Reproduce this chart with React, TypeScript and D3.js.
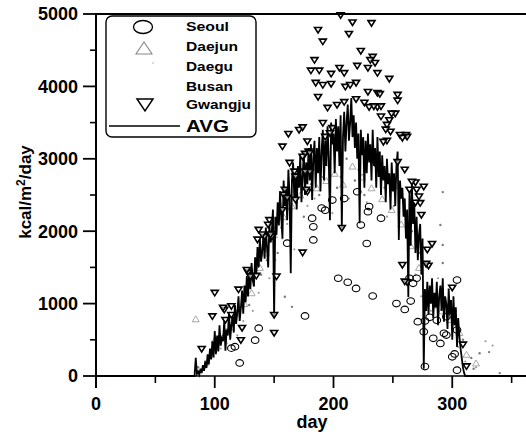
import React from "react";
import * as d3 from "d3";

// ---------- data ----------
const X_TICKS = [0, 100, 200, 300];
const X_MINOR = [50, 150, 250, 350];
const Y_TICKS = [0, 1000, 2000, 3000, 4000, 5000];
const Y_MINOR = [500, 1500, 2500, 3500, 4500];

const LEGEND_NAMES = ["Seoul", "Daejun", "Daegu", "Busan", "Gwangju", "AVG"];

// AVG daily values starting at day 80 (zero before and after)
const AVG_START = 80;
const AVG_VALUES = [
  0, 0, 0, 0, 250, 30, 60, 20, 100, 40,
  150, 70, 200, 110, 300, 160, 380, 230, 480, 260,
  620, 300, 560, 340, 700, 420, 520, 480, 760, 350,
  640, 560, 880, 500, 700, 820, 600, 980, 720, 880,
  1100, 760, 940, 1180, 860, 1250, 1020, 1380, 1100, 1460,
  1200, 1560, 1320, 1240, 1640, 1400, 1780, 1500, 1900, 1580,
  1720, 1960, 1620, 2050, 1780, 1500, 2100, 1850, 1980, 2300,
  820, 2200, 1950, 2400, 2080, 2550, 2200, 1900, 2700, 2350,
  2600, 2150, 2850, 2500, 1420, 2700, 2950, 2450, 2800, 2300,
  2900, 2600, 3050, 2400, 2750, 3100, 2500, 2950, 2650, 3150,
  2700, 3200, 2430, 3000, 3250, 2600, 3150, 2800, 3300, 2550,
  3100, 3400, 2700, 3250, 2900, 3450, 3000, 2150, 3500, 3200,
  3350, 2800, 3550, 3100, 3450, 2900, 3600, 2040, 3300, 3650,
  3100, 3500, 3750, 3250, 3500, 3840, 3300, 3600, 3150, 3500,
  3000, 3350, 2110, 3400, 3050, 3300, 2600, 3250, 2800, 3350,
  2950, 3200, 2700, 3400, 2900, 3150, 2600, 3300, 2750, 3100,
  2500, 3050, 2700, 2900, 2400, 3000, 2650, 2800, 2300, 2950,
  2550, 2800, 2350, 2900, 3100, 1880, 2700, 2450, 2600, 2200,
  2450, 1900, 2300, 1090, 2550, 1800, 2650, 2100, 2400, 1700,
  2200, 1600, 1950, 2100, 1400, 1900, 100, 1200, 900, 1300,
  850, 1250, 1000, 1350, 800, 1150, 950, 1300, 700, 1100,
  1250, 900, 1350, 750, 1100, 1000, 650, 1200, 850, 1050,
  500, 1100, 700, 950, 400, 800, 550, 380, 250, 120,
  40, 0, 0, 0,
];
const AVG_LAST_DAY = 366;

const GWANGJU: [number, number][] = [
  [206, 4980], [216, 4880], [232, 4870], [187, 4775], [213, 4720], [191, 4615],
  [223, 4485], [233, 4405], [184, 4360], [231, 4360], [181, 4215], [188, 4215],
  [198, 4170], [205, 4250], [209, 4180], [220, 4280], [229, 4250], [235, 4320],
  [237, 4180], [185, 4045], [191, 4015], [198, 4030], [210, 3990], [214, 4015],
  [219, 4045], [229, 3920], [237, 3905], [187, 3850], [195, 3700], [203, 3740],
  [209, 3780], [219, 3820], [226, 3770], [230, 3710], [237, 3710], [247, 4100],
  [254, 3880], [254, 3800], [239, 3890], [240, 3720], [234, 3720], [252, 3620],
  [240, 3580], [247, 3530], [245, 3465], [248, 3370], [244, 3400], [261, 3325],
  [262, 3300], [245, 3245], [191, 3490], [162, 3340], [171, 3395], [174, 3430],
  [157, 3165], [178, 3235], [176, 3065], [179, 3095], [174, 3025], [180, 3075],
  [254, 2950], [260, 2845], [163, 2940], [167, 2820], [168, 2750], [269, 2670],
  [270, 2570], [276, 2610], [159, 2570], [158, 2500], [161, 2455], [168, 2430],
  [157, 2290], [273, 2385], [274, 2220], [146, 2150], [145, 2085], [137, 2015],
  [142, 1920], [148, 1920], [283, 1820], [279, 1740], [207, 2040], [180, 2815],
  [178, 2540], [258, 1530], [280, 1520], [262, 1290], [174, 1700], [89, 370],
  [100, 1145], [98, 820], [108, 910], [114, 840], [120, 1190], [128, 1425],
  [130, 1370], [135, 1380], [122, 490], [150, 590], [150, 840], [260, 1300],
  [278, 1545], [300, 1215], [309, 430], [312, 130], [107, 940], [127, 1460],
  [136, 1880], [140, 1950], [147, 1950], [152, 1370], [109, 770], [123, 660],
  [114, 960], [199, 3420], [197, 3350], [193, 3300], [249, 3620], [256, 3325],
  [258, 3285], [242, 3230], [266, 2680], [264, 2570], [272, 2475], [269, 2390],
  [177, 2570], [176, 2820],
];

const SEOUL: [number, number][] = [
  [204, 1350], [212, 1295], [219, 1210], [233, 1105], [253, 1000], [260, 920],
  [265, 1035], [176, 830], [134, 495], [114, 385], [277, 130], [271, 750],
  [276, 610], [284, 520], [290, 450], [293, 590], [300, 265], [304, 80],
  [228, 1830], [223, 2085], [220, 2545], [209, 2450], [193, 2290], [190, 2320],
  [183, 2060], [183, 1880], [199, 2430], [230, 2340], [229, 2270], [240, 2180],
  [182, 2180], [264, 1350], [270, 1350], [267, 1280], [304, 1325], [277, 760],
  [281, 810], [302, 305], [295, 565], [304, 635], [137, 660], [117, 405],
  [121, 180], [161, 1835], [287, 770], [295, 820],
];

const DAEJUN: [number, number][] = [
  [84, 790], [100, 500], [110, 620], [118, 870], [125, 1000], [131, 1150],
  [138, 1500], [143, 1700], [150, 1950], [158, 2200], [165, 2350], [172, 2500],
  [186, 2600], [194, 2700], [201, 2800], [208, 2650], [216, 2900], [224, 2750],
  [232, 2600], [241, 2450], [249, 2300], [257, 2100], [265, 1800], [272, 1500],
  [283, 1050], [291, 900], [298, 780], [306, 600], [312, 300], [320, 180],
];

const DAEGU: [number, number][] = [
  [86, 120], [92, 200], [97, 330], [103, 420], [107, 560], [112, 700], [116, 640],
  [121, 900], [126, 1100], [129, 980], [133, 1250], [139, 1400], [144, 1600],
  [147, 1850], [153, 1700], [156, 2050], [159, 1095], [165, 955], [163, 2300],
  [169, 2400], [175, 2200], [181, 2650], [188, 2500], [196, 2900], [203, 2600],
  [211, 3000], [218, 2700], [226, 2500], [235, 2900], [243, 2600], [251, 2350],
  [259, 2450], [266, 2000], [272, 1700], [279, 1150], [286, 950], [290, 2085],
  [292, 1810], [292, 1560], [297, 1200], [303, 900], [309, 500], [316, 250],
  [323, 315], [331, 330], [292, 2540], [318, 100], [340, 40],
];

const BUSAN: [number, number][] = [
  [88, 60], [94, 150], [99, 260], [105, 380], [110, 450], [115, 780], [119, 560],
  [124, 760], [128, 1300], [132, 900], [137, 1150], [141, 1800], [146, 1350],
  [151, 1600], [157, 1900], [161, 2100], [167, 1750], [172, 2700], [178, 2350],
  [184, 2450], [191, 2750], [199, 2250], [206, 2750], [213, 2450], [221, 2850],
  [228, 2400], [236, 2700], [245, 2200], [253, 2600], [262, 1900], [269, 1400],
  [274, 1100], [282, 900], [288, 1350], [294, 1000], [300, 750], [305, 400],
  [311, 200], [320, 120], [328, 480], [334, 420],
];

// ---------- chart ----------
const W = 526;
const H = 434;
const FONT = "'Liberation Sans', Arial, Helvetica, sans-serif";

export default function App() {
  const x = d3.scaleLinear().domain([0, 100]).range([96, 214.75]);
  const y = d3.scaleLinear().domain([0, 5000]).range([376, 14]);

  const avgPts: [number, number][] = [[0, 0]];
  AVG_VALUES.forEach((v, i) => avgPts.push([AVG_START + i, v]));
  avgPts.push([AVG_LAST_DAY, 0]);

  const line = d3
    .line<[number, number]>()
    .x((d) => x(d[0]))
    .y((d) => y(d[1]));

  const triDown = (w: number, h: number) => `M${-w / 2},${-h / 2}L${w / 2},${-h / 2}L0,${h / 2}Z`;
  const triUp = (w: number, h: number) => `M${-w / 2},${h / 2}L${w / 2},${h / 2}L0,${-h / 2}Z`;

  const xMax = 526;
  const legendRows = [27, 47, 67, 87, 105, 126];
  const legendWidths = [43, 52, 47, 47, 65, 43];

  return (
    <div style={{ position: "fixed", left: 0, top: 0, width: W, height: H, background: "#fff" }}>
      <svg width={W} height={H} viewBox={`0 0 ${W} ${H}`} style={{ display: "block", fontFamily: FONT }}>
        <defs>
          <clipPath id="plot">
            <rect x={96} y={10} width={xMax - 96} height={372} />
          </clipPath>
        </defs>
        <rect x={0} y={0} width={W} height={H} fill="#fff" />

        <g clipPath="url(#plot)">
          {BUSAN.map((d, i) => (
            <circle key={"b" + i} cx={x(d[0])} cy={y(d[1])} r={1.1} fill="#9a9a9a" />
          ))}
          {DAEGU.map((d, i) => (
            <circle key={"g" + i} cx={x(d[0])} cy={y(d[1])} r={1.2} fill="#7a7a7a" />
          ))}
          {DAEJUN.map((d, i) => (
            <path
              key={"j" + i}
              d={triUp(7, 6)}
              transform={`translate(${x(d[0])},${y(d[1])})`}
              fill="none"
              stroke="#a8a8a8"
              strokeWidth={1}
            />
          ))}
          <path d={line(avgPts) as string} fill="none" stroke="#000" strokeWidth={1.8} strokeLinejoin="miter" />
          {SEOUL.map((d, i) => (
            <ellipse
              key={"s" + i}
              cx={x(d[0])}
              cy={y(d[1])}
              rx={3.8}
              ry={3.3}
              fill="none"
              stroke="#000"
              strokeWidth={1.1}
            />
          ))}
          {GWANGJU.map((d, i) => (
            <path
              key={"k" + i}
              d={triDown(7, 5.5)}
              transform={`translate(${x(d[0])},${y(d[1])})`}
              fill="#fff"
              fillOpacity={0.6}
              stroke="#000"
              strokeWidth={1.6}
              strokeLinejoin="miter"
            />
          ))}
        </g>

        {/* axes */}
        <line x1={96} x2={xMax} y1={14} y2={14} stroke="#000" strokeWidth={2} />
        <line x1={96} x2={96} y1={13} y2={388} stroke="#000" strokeWidth={2} />
        <line x1={96} x2={xMax} y1={376} y2={376} stroke="#000" strokeWidth={1.6} />
        {Y_TICKS.map((t) => (
          <g key={"yt" + t}>
            <line x1={83} x2={96} y1={y(t)} y2={y(t)} stroke="#000" strokeWidth={1.8} />
            <text x={78} y={y(t)} dy="0.36em" textAnchor="end" fontSize={18} fontWeight="bold">
              {t}
            </text>
          </g>
        ))}
        {Y_MINOR.map((t) => (
          <line key={"ym" + t} x1={90} x2={96} y1={y(t)} y2={y(t)} stroke="#000" strokeWidth={1.6} />
        ))}
        {X_TICKS.map((t) => (
          <g key={"xt" + t}>
            <line x1={x(t)} x2={x(t)} y1={376} y2={388} stroke="#000" strokeWidth={1.8} />
            <text x={x(t)} y={410} textAnchor="middle" fontSize={18} fontWeight="bold">
              {t}
            </text>
          </g>
        ))}
        {X_MINOR.map((t) => (
          <line key={"xm" + t} x1={x(t)} x2={x(t)} y1={376} y2={383} stroke="#000" strokeWidth={1.6} />
        ))}
        <text x={312} y={428} textAnchor="middle" fontSize={18} fontWeight="bold">
          day
        </text>
        <text transform="translate(31,192) rotate(-90)" textAnchor="middle" fontSize={17} fontWeight="bold">
          <tspan>kcal/m</tspan>
          <tspan dy={-6} fontSize={12}>2</tspan>
          <tspan dy={6}>/day</tspan>
        </text>

        {/* legend */}
        <rect x={106} y={16} width={150} height={121} rx={6} ry={6} fill="#fff" stroke="#000" strokeWidth={1.4} />
        <ellipse cx={143} cy={27} rx={9.5} ry={6.5} fill="none" stroke="#000" strokeWidth={1.3} />
        <path d={triUp(16, 12)} transform="translate(144,48)" fill="none" stroke="#888" strokeWidth={1.1} />
        <circle cx={153} cy={63} r={0.8} fill="#aaa" />
        <path d={triDown(16, 12)} transform="translate(145,105)" fill="none" stroke="#000" strokeWidth={1.5} />
        <line x1={109} x2={180} y1={126} y2={126} stroke="#000" strokeWidth={1.6} />
        {LEGEND_NAMES.map((n, i) => (
          <text
            key={n}
            x={186}
            y={legendRows[i]}
            dy="0.36em"
            fontSize={i === 5 ? 17 : 12}
            fontWeight="bold"
            textLength={legendWidths[i]}
            lengthAdjust="spacingAndGlyphs"
          >
            {n}
          </text>
        ))}
      </svg>
    </div>
  );
}
